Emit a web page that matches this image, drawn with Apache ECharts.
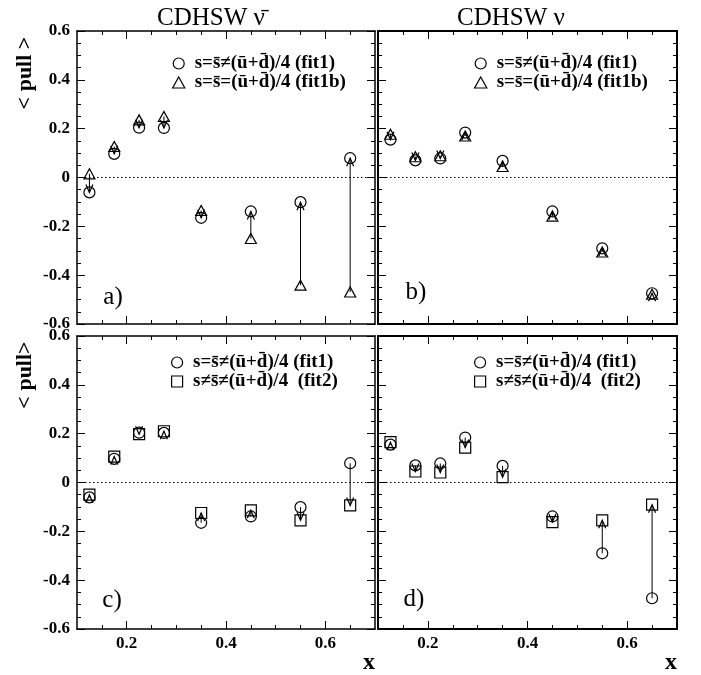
<!DOCTYPE html>
<html>
<head>
<meta charset="utf-8">
<script src="https://cdn.jsdelivr.net/npm/echarts@6/dist/echarts.min.js"></script>
<style>html,body{margin:0;padding:0;background:#fff;}#c{width:701px;height:675px;}</style>
</head>
<body>
<div id="c"></div>
<script>
// ---- data ----
const xCenters   = [0.125, 0.175, 0.225, 0.275, 0.35, 0.45, 0.55, 0.65];
const nubarFit1  = [-0.061, 0.097, 0.204, 0.203, -0.165, -0.139, -0.101, 0.079];
const nubarFit1b = [0.015, 0.127, 0.236, 0.25, -0.135, -0.25, -0.441, -0.469];
const nubarFit2  = [-0.05, 0.106, 0.198, 0.21, -0.125, -0.114, -0.155, -0.094];
const nuFit1     = [0.155, 0.07, 0.078, 0.184, 0.068, -0.139, -0.29, -0.474];
const nuFit1b    = [0.177, 0.085, 0.089, 0.17, 0.045, -0.158, -0.305, -0.478];
const nuFit2     = [0.165, 0.045, 0.041, 0.143, 0.022, -0.162, -0.155, -0.091];
const xMajorTicks = [0.2, 0.4, 0.6];
const xMinorTicks = [0.15, 0.25, 0.3, 0.35, 0.45, 0.5, 0.55, 0.65];
const xRange = [0.1, 0.7];
const yRange = [-0.6, 0.6];
const yStep = 0.2;

const N1  = 's=s\u0304\u2260(u\u0304+d\u0304)/4 (fit1)';
const N1b = 's=s\u0304=(u\u0304+d\u0304)/4 (fit1b)';
const N2  = 's\u2260s\u0304\u2260(u\u0304+d\u0304)/4  (fit2)';

const titleA = 'CDHSW \u03bd\u0304';
const titleB = 'CDHSW \u03bd';

// ---- helpers ----
const FONT = 'Liberation Serif';
const pts = ys => xCenters.map((x, i) => [x, ys[i]]);
const arrowData = (from, to) => xCenters.map((x, i) => [x, from[i], to[i]]);

const ICON = {
  circle: 'circle',
  triangle: 'path://M5,0L10,9L0,9Z',
  rect: 'path://M0,0L10,0L10,10L0,10Z'
};

const panels = [
  {grid: {left: 77, top: 31, width: 298, height: 293}, xl: false, yl: true,
   s1: nubarFit1, s2: nubarFit1b, n2: N1b, sym2: 'triangle', from: nubarFit1b, to: nubarFit1,
   legend: {left: 172, top: 54}},
  {grid: {left: 378, top: 31, width: 299, height: 293}, xl: false, yl: false,
   s1: nuFit1, s2: nuFit1b, n2: N1b, sym2: 'triangle', from: nuFit1b, to: nuFit1,
   legend: {left: 474, top: 54}},
  {grid: {left: 77, top: 336, width: 298, height: 293}, xl: true, yl: true,
   s1: nubarFit1, s2: nubarFit2, n2: N2, sym2: 'rect', from: nubarFit1, to: nubarFit2,
   legend: {left: 171, top: 353}},
  {grid: {left: 378, top: 336, width: 299, height: 293}, xl: true, yl: false,
   s1: nuFit1, s2: nuFit2, n2: N2, sym2: 'rect', from: nuFit1, to: nuFit2,
   legend: {left: 474, top: 353}}
];

const black = {color: '#000', width: 1};
const labelFont = {color: '#000', fontFamily: FONT, fontWeight: 'bold', fontSize: 17};

const grids = [], xAxes = [], yAxes = [], series = [], legends = [];

function renderArrow(params, api) {
  const x = api.value(0);
  const p0 = api.coord([x, api.value(1)]);
  const p1 = api.coord([x, api.value(2)]);
  const dir = p1[1] >= p0[1] ? 1 : -1;
  const L = 8, W = 3.5;
  return {
    type: 'group',
    children: [
      {type: 'line', shape: {x1: p0[0], y1: p0[1], x2: p1[0], y2: p1[1]},
       style: {stroke: '#000', lineWidth: 1}},
      {type: 'polyline', shape: {points: [[p1[0] - W, p1[1] - dir * L], [p1[0], p1[1]], [p1[0] + W, p1[1] - dir * L]]},
       style: {stroke: '#000', fill: null, lineWidth: 1.2}}
    ]
  };
}

panels.forEach((p, g) => {
  const frame = {color: '#000', width: g % 2 === 1 ? 2 : 1.5};
  grids.push(Object.assign({outerBoundsMode: 'none', containLabel: false}, p.grid));
  const xb = {type: 'value', gridIndex: g, min: xRange[0], max: xRange[1], splitLine: {show: false}};
  xAxes.push(
    Object.assign({}, xb, {position: 'bottom',
      axisLine: {show: true, onZero: false, lineStyle: frame},
      axisTick: {show: true, inside: true, length: 8, customValues: xMajorTicks, lineStyle: black},
      axisLabel: Object.assign({show: p.xl, customValues: xMajorTicks, margin: 6}, labelFont)}),
    Object.assign({}, xb, {position: 'bottom',
      axisLine: {show: false, onZero: false},
      axisTick: {show: true, inside: true, length: 4, customValues: xMinorTicks, lineStyle: black},
      axisLabel: {show: false}}),
    Object.assign({}, xb, {position: 'top',
      axisLine: {show: true, onZero: false, lineStyle: frame},
      axisTick: {show: true, inside: true, length: 8, customValues: xMajorTicks, lineStyle: black},
      axisLabel: {show: false}}),
    Object.assign({}, xb, {position: 'top',
      axisLine: {show: false, onZero: false},
      axisTick: {show: true, inside: true, length: 4, customValues: xMinorTicks, lineStyle: black},
      axisLabel: {show: false}})
  );
  const yb = {type: 'value', gridIndex: g, min: yRange[0], max: yRange[1], interval: yStep,
    splitLine: {show: false}, minorSplitLine: {show: false},
    axisLine: {show: true, onZero: false, lineStyle: frame},
    axisTick: {show: true, inside: true, length: 8, lineStyle: black},
    minorTick: {show: true, splitNumber: 4, length: 4, lineStyle: black}};
  yAxes.push(
    Object.assign({}, yb, {position: 'left',
      axisLabel: Object.assign({show: p.yl, margin: 7, showMinLabel: true, showMaxLabel: true}, labelFont)}),
    Object.assign({}, yb, {position: 'right', axisLabel: {show: false}})
  );
  const xi = 4 * g, yi = 2 * g;
  series.push({
    type: 'scatter', name: N1, xAxisIndex: xi, yAxisIndex: yi, data: pts(p.s1),
    symbol: 'circle', symbolSize: 11, z: 3, emphasis: {disabled: true},
    itemStyle: {color: 'rgba(0,0,0,0)', borderColor: '#000', borderWidth: 1.2, opacity: 1},
    markLine: {silent: true, symbol: ['none', 'none'], label: {show: false},
      lineStyle: {color: '#000', width: 1, type: [1.5, 2.5]}, data: [{yAxis: 0}], animation: false}
  });
  series.push({
    type: 'scatter', name: p.n2, xAxisIndex: xi, yAxisIndex: yi, data: pts(p.s2),
    symbol: p.sym2, symbolSize: p.sym2 === 'triangle' ? [11, 10] : 11, z: 3, emphasis: {disabled: true},
    itemStyle: {color: 'rgba(0,0,0,0)', borderColor: '#000', borderWidth: 1.2, opacity: 1}
  });
  series.push({
    type: 'custom', xAxisIndex: xi, yAxisIndex: yi, data: arrowData(p.from, p.to),
    encode: {x: 0, y: [1, 2]}, renderItem: renderArrow, z: 4, silent: true
  });
  legends.push({
    left: p.legend.left, top: p.legend.top, orient: 'vertical', padding: 0,
    itemWidth: 22, itemHeight: 11, itemGap: 0, selectedMode: false, symbolKeepAspect: true,
    data: [{name: N1, icon: ICON.circle}, {name: p.n2, icon: ICON[p.sym2]}],
    itemStyle: {color: 'rgba(0,0,0,0)', borderColor: '#000', borderWidth: 1.2},
    textStyle: {fontFamily: FONT, fontWeight: 'bold', fontSize: 19, color: '#000', lineHeight: 18}
  });
});

const txt = (x, y, text, font, extra) => Object.assign({
  type: 'text', x: x, y: y, silent: true,
  style: {text: text, font: font, fill: '#000', textAlign: 'center', textVerticalAlign: 'middle'}
}, extra || {});

const graphics = [
  txt(211, 18, titleA, '25px "Liberation Serif"'),
  txt(511, 18, titleB, '25px "Liberation Serif"'),
  txt(25, 73, '< pull >', 'bold 22px "Liberation Serif"', {rotation: Math.PI / 2}),
  txt(25, 375, '< pull>', 'bold 22px "Liberation Serif"', {rotation: Math.PI / 2}),
  txt(113, 297, 'a)', '25px "Liberation Serif"'),
  txt(416, 292, 'b)', '25px "Liberation Serif"'),
  txt(112, 600, 'c)', '25px "Liberation Serif"'),
  txt(414, 599, 'd)', '25px "Liberation Serif"'),
  txt(369, 663, 'x', 'bold 24px "Liberation Serif"'),
  txt(671, 663, 'x', 'bold 24px "Liberation Serif"')
];

const chart = echarts.init(document.getElementById('c'), null, {renderer: 'canvas'});
chart.setOption({
  animation: false,
  backgroundColor: '#fff',
  grid: grids,
  xAxis: xAxes,
  yAxis: yAxes,
  legend: legends,
  series: series,
  graphic: graphics
});
</script>
</body>
</html>
